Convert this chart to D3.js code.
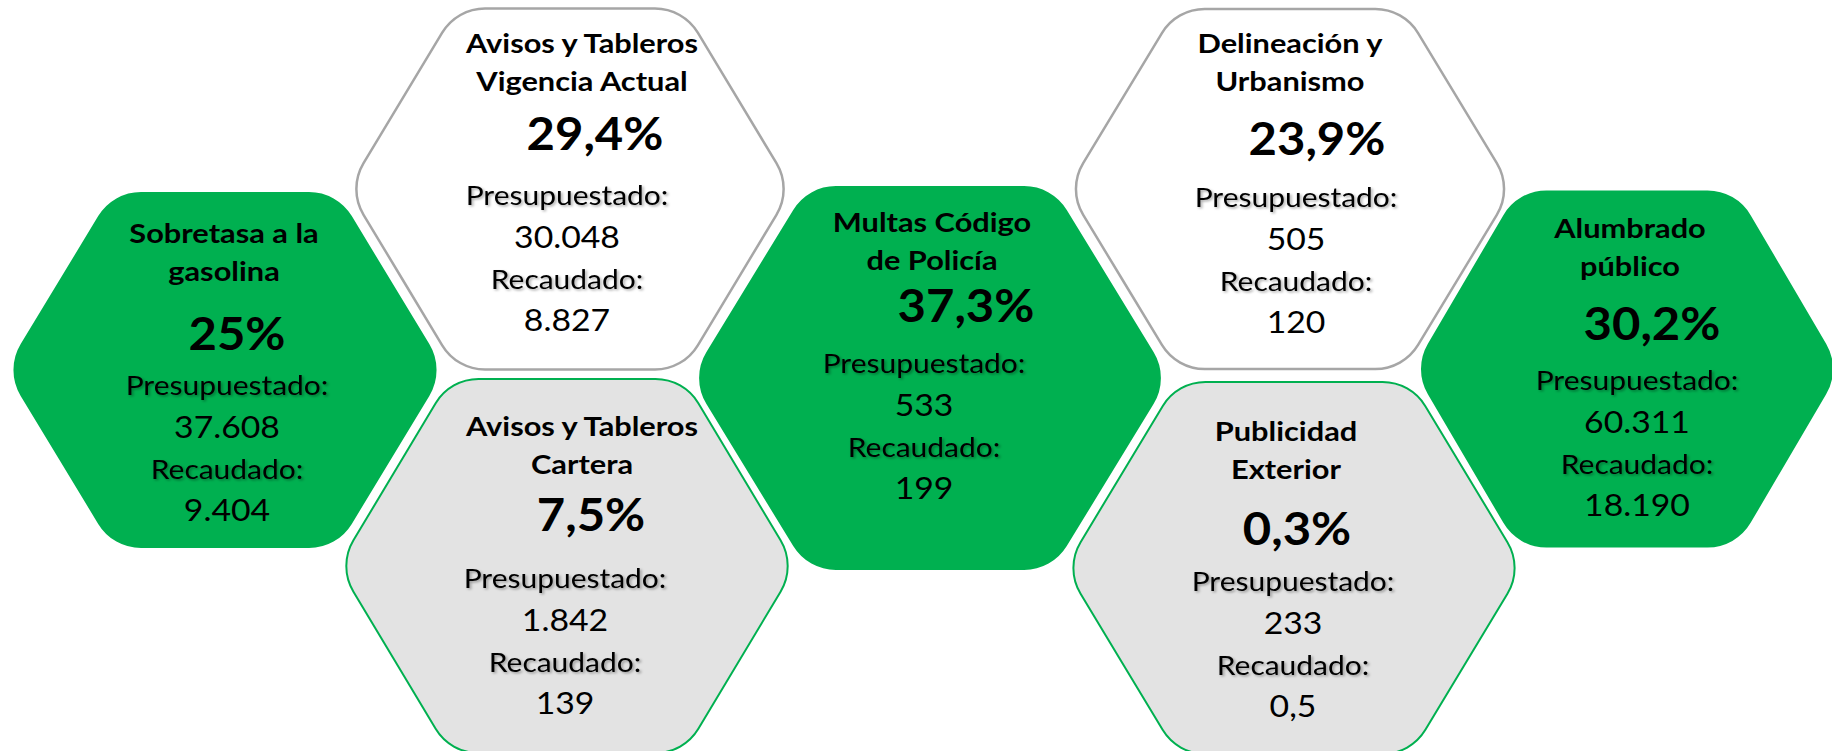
<!DOCTYPE html>
<meta charset='utf-8'>
<style>
  body { margin:0; background:#fff; }
  svg text { font-family:Lato, 'Open Sans', sans-serif; fill:#000; }
  .title { font-weight:700; font-size:27px; }
  .pct { font-weight:700; font-size:46px; }
  .label { font-size:27px; }
  .value { font-size:31px; }
</style>
<body>
  <script src='https://d3js.org/d3.v7.min.js' charset='utf-8'></script>
  <script>

    // data
    var categories = [
      ['Sobretasa a la', 'gasolina'],
      ['Avisos y Tableros', 'Vigencia Actual'],
      ['Avisos y Tableros', 'Cartera'],
      ['Multas Código', 'de Policía'],
      ['Delineación y', 'Urbanismo'],
      ['Publicidad', 'Exterior'],
      ['Alumbrado', 'público']
    ];
    var percentages = [25, 29.4, 7.5, 37.3, 23.9, 0.3, 30.2];
    var budgeted = [37608, 30048, 1842, 533, 505, 233, 60311];
    var collected = [9404, 8827, 139, 199, 120, 0.5, 18190];
    var rowLabels = ['Presupuestado:', 'Recaudado:'];

    // layout of each cell (hex centre/size and text anchors)
    var layout = [
      {cx:225,  cy:370, w:440, h:356, kind:'green', tx:224,  ty:243, px:237,  py:350, bx:227,  by:395},
      {cx:570,  cy:189, w:444, h:361, kind:'white', tx:582,  ty:53,  px:595,  py:150, bx:567,  by:205},
      {cx:567,  cy:566, w:458, h:374, kind:'grey',  tx:582,  ty:436, px:591,  py:531, bx:565,  by:588},
      {cx:930,  cy:378, w:479, h:384, kind:'green', tx:932,  ty:232, px:966,  py:322, bx:924,  by:373},
      {cx:1290, cy:189, w:445, h:360, kind:'white', tx:1290, ty:53,  px:1317, py:155, bx:1296, by:207},
      {cx:1294, cy:568, w:458, h:372, kind:'grey',  tx:1286, ty:441, px:1297, py:545, bx:1293, by:591},
      {cx:1627, cy:369, w:428, h:357, kind:'green', tx:1630, ty:238, px:1652, py:340, bx:1637, by:390}
    ];
    var styles = {
      green: {fill:'#00b050', stroke:'none', sw:0},
      white: {fill:'#ffffff', stroke:'#a6a6a6', sw:2.5},
      grey:  {fill:'#e3e3e3', stroke:'#00b050', sw:2}
    };
    // horizontal stretch per text class (Lato is narrower than the original face)
    var stretch = {title:1.14, pct:1.065, label:1.11, value:1.09};
    var titleStep = 38;
    var rowSteps = [0, 43, 84, 126];

    var width = 1832;
    var height = 751;

    var es = d3.formatLocale({decimal:',', thousands:'.', grouping:[3], currency:['$','']});
    var fmtInt = es.format(',.0f');
    var fmtDec = es.format(',.1f');
    function fmtNum(v) { return Number.isInteger(v) ? fmtInt(v) : fmtDec(v); }
    function fmtPct(v) { return fmtNum(v) + '%'; }

    var svg = d3.select('body').append('svg')
      .attr('width', width)
      .attr('height', height);

    var f = svg.append('defs').append('filter')
      .attr('id', 'shadow')
      .attr('x', '-10%').attr('y', '-30%')
      .attr('width', '130%').attr('height', '160%');
    f.append('feDropShadow')
      .attr('dx', 1.5).attr('dy', 1.5)
      .attr('stdDeviation', 1.2)
      .attr('flood-color', '#000')
      .attr('flood-opacity', 0.35);

    function hexPath(d) {
      var inset = d.w * 0.245;
      var pts = [
        [d.cx - d.w / 2, d.cy],
        [d.cx - d.w / 2 + inset, d.cy - d.h / 2],
        [d.cx + d.w / 2 - inset, d.cy - d.h / 2],
        [d.cx + d.w / 2, d.cy],
        [d.cx + d.w / 2 - inset, d.cy + d.h / 2],
        [d.cx - d.w / 2 + inset, d.cy + d.h / 2]
      ];
      var r = 50;
      var p = d3.path();
      var a = pts[5], b = pts[0];
      p.moveTo((a[0] + b[0]) / 2, (a[1] + b[1]) / 2);
      for (var i = 0; i < 6; i++) {
        var c = pts[i], n = pts[(i + 1) % 6];
        p.arcTo(c[0], c[1], n[0], n[1], r);
      }
      p.closePath();
      return p.toString();
    }

    function addText(g, cls, x, y, str) {
      return g.append('text')
        .attr('class', cls)
        .attr('transform', 'translate(' + x + ',' + y + ') scale(' + stretch[cls] + ',1)')
        .attr('text-anchor', 'middle')
        .text(str);
    }

    var data = categories.map(function(c, i) {
      return {title:c, pct:percentages[i], budget:budgeted[i], got:collected[i], pos:layout[i]};
    });

    var cells = svg.selectAll('g.cell')
      .data(data)
      .enter().append('g')
      .attr('class', 'cell');

    cells.append('path')
      .attr('d', function(d) { return hexPath(d.pos); })
      .attr('fill', function(d) { return styles[d.pos.kind].fill; })
      .attr('stroke', function(d) { return styles[d.pos.kind].stroke; })
      .attr('stroke-width', function(d) { return styles[d.pos.kind].sw; });

    cells.each(function(d) {
      var g = d3.select(this);
      var p = d.pos;
      d.title.forEach(function(line, j) {
        addText(g, 'title', p.tx, p.ty + j * titleStep, line);
      });
      addText(g, 'pct', p.px, p.py, fmtPct(d.pct));
      var rows = [
        {t:rowLabels[0], c:'label'},
        {t:fmtNum(d.budget), c:'value'},
        {t:rowLabels[1], c:'label'},
        {t:fmtNum(d.got), c:'value'}
      ];
      rows.forEach(function(r, j) {
        var t = addText(g, r.c, p.bx, p.by + rowSteps[j], r.t);
        if (r.c === 'label') t.attr('filter', 'url(#shadow)');
      });
    });
  </script>
</body>
